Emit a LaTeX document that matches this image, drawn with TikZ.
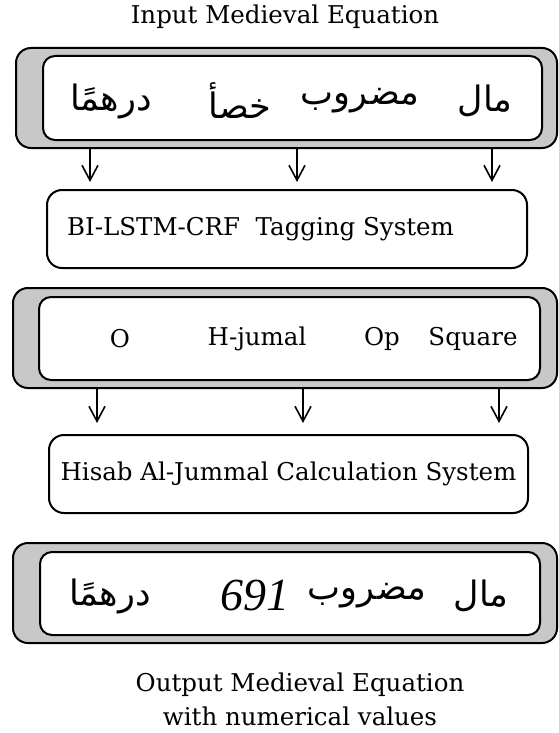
\documentclass[tikz,border=0pt]{standalone}
\usepackage{fontspec}
\usetikzlibrary{arrows.meta}
\setmainfont{DejaVu Serif}
\newfontfamily\arabicfont[Script=Arabic]{DejaVu Sans}
\newfontfamily\numfont{Liberation Serif}
\TeXXeTstate=1
\definecolor{panelgrey}{HTML}{C8C8C8}
\tikzset{
  outerbox/.style={draw=black, line width=2pt, fill=panelgrey, rounded corners=15pt, inner sep=0pt},
  innerbox/.style={draw=black, line width=2pt, fill=white, rounded corners=12pt, inner sep=0pt},
  stagebox/.style={draw=black, line width=2pt, fill=white, rounded corners=15pt, inner sep=0pt},
  label/.style={font=\fontsize{24.5}{29}\selectfont, inner sep=0pt},
  arword/.style={font=\arabicfont\fontsize{35}{42}\selectfont, inner sep=0pt},
  flow/.style={line width=1.6pt, -{Straight Barb[length=15pt, width=16pt, line width=1.6pt]}}
}
\begin{document}
\begin{tikzpicture}[x=1pt, y=-1pt]
\useasboundingbox (0,0) rectangle (558,733);

% title
\node[label] (title) at (285,17) {Input Medieval Equation};

% input equation panel
\node[outerbox, minimum width=541pt, minimum height=100pt] (in) at (286.5,98) {};
\node[innerbox, minimum width=499pt, minimum height=84pt] (inw) at (292.5,98) {};
\node[arword] (w1) at (485,101) {\beginR مال\endR};
\node[arword] (w2) at (360,101) {\beginR مضروب\endR};
\node[arword] (w3) at (240,101) {\beginR خصأ\endR};
\node[arword] (w4) at (111,101) {\beginR درهمًا\endR};

% tagging stage
\node[stagebox, minimum width=480pt, minimum height=78pt] (tag) at (287,229) {};
\node[label, anchor=west] (tagtxt) at (67,229) {BI-LSTM-CRF\ \ Tagging System};

% tag panel
\node[outerbox, minimum width=544pt, minimum height=100pt] (tp) at (285,338) {};
\node[innerbox, minimum width=501pt, minimum height=83pt] (tpw) at (289.5,338.5) {};
\node[label] (t1) at (120,339) {O};
\node[label] (t2) at (257,339) {H-jumal};
\node[label] (t3) at (382,339) {Op};
\node[label] (t4) at (473,339) {Square};

% calculation stage
\node[stagebox, minimum width=479pt, minimum height=78pt] (calc) at (288.5,474) {};
\node[label] (calctxt) at (288.5,474) {Hisab Al-Jummal Calculation System};

% output equation panel
\node[outerbox, minimum width=544pt, minimum height=100pt] (out) at (285,593) {};
\node[innerbox, minimum width=500pt, minimum height=83pt] (outw) at (290,593.5) {};
\node[arword] (o1) at (481,596) {\beginR مال\endR};
\node[arword] (o2) at (367,596) {\beginR مضروب\endR};
\node[font=\numfont\itshape\fontsize{46}{50}\selectfont, inner sep=0pt] (o3) at (255,595) {691};
\node[arword] (o4) at (110,596) {\beginR درهمًا\endR};

% caption
\node[label, align=center, font=\fontsize{24.5}{34}\selectfont] (cap) at (300,699) {Output Medieval Equation\\with numerical values};

% arrow targets
\coordinate (a1) at (90,182);
\coordinate (a2) at (297,182);
\coordinate (a3) at (492,182);
\coordinate (b1) at (97,423);
\coordinate (b2) at (303,423);
\coordinate (b3) at (499,423);

\draw[flow] (in.south -| a1) -- (a1);
\draw[flow] (in.south -| a2) -- (a2);
\draw[flow] (in.south -| a3) -- (a3);
\draw[flow] (tp.south -| b1) -- (b1);
\draw[flow] (tp.south -| b2) -- (b2);
\draw[flow] (tp.south -| b3) -- (b3);
\end{tikzpicture}
\end{document}
